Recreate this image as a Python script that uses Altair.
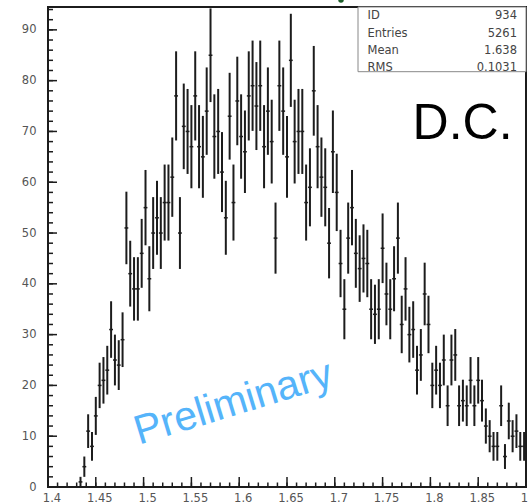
import altair as alt
import numpy as np
import pandas as pd

# ---------------- data ----------------
x_min, x_max = 1.4, 1.9
bin_width = 0.004
counts = [
    0, 0, 0, 0, 0, 0, 0, 0,
    1, 4, 11, 8, 14, 20, 21, 23, 31, 25, 24, 29, 51, 42, 39, 39, 46, 55, 41, 50,
    53, 50, 56, 56, 61, 77, 50, 71, 70, 67, 77, 67, 65, 74, 85, 69, 70, 62,
    53, 73, 56, 76, 69, 66, 77, 79, 75, 79, 67, 74, 68, 49, 79, 74, 65, 84, 68, 70,
    70, 56, 59, 78, 67, 61, 59, 48, 66, 58, 44, 35, 49, 55, 46, 43, 45, 44,
    35, 34, 35, 47, 38, 35, 41, 49, 32, 39, 30, 31, 23, 26, 38, 32, 20, 23, 20, 25,
    16, 25, 26, 16, 17, 16, 21, 16, 21, 17, 12, 10, 8, 8, 16, 6, 13, 10, 11, 8, 8,
]
x_tick_labels = [1.4, 1.45, 1.5, 1.55, 1.6, 1.65, 1.7, 1.75, 1.8, 1.85, 1.9]
y_tick_labels = [0, 10, 20, 30, 40, 50, 60, 70, 80, 90]
stat_names = ["ID", "Entries", "Mean", "RMS"]
stat_values = ["934", "5261", "1.638", "0.1031"]

# ---------------- tables ----------------
n = len(counts)
lo = x_min + bin_width * np.arange(n)
df = pd.DataFrame({
    "lo": lo,
    "hi": lo + bin_width,
    "x": lo + bin_width / 2,
    "n": counts,
})
df["err"] = np.sqrt(df["n"])
df["ylo"] = df["n"] - df["err"]
df["yhi"] = df["n"] + df["err"]
df = df[df["n"] > 0]

x_major = pd.DataFrame({"v": x_tick_labels})
x_minor = pd.DataFrame({"v": np.round(np.arange(1.40, 1.9001, 0.01), 3)})
y_major = pd.DataFrame({"v": y_tick_labels})
y_minor = pd.DataFrame({"v": np.arange(0, 95, 2)})

W, H = 478, 480
xs = alt.Scale(domain=[x_min, x_max], nice=False, zero=False)
ys = alt.Scale(domain=[0, 94.5], nice=False, zero=False)
INK = "#1c1c1c"

vbars = alt.Chart(df).mark_rule(color=INK, strokeWidth=2, clip=True).encode(
    x=alt.X("x:Q", scale=xs, axis=alt.Axis(values=x_tick_labels, format="~g",
                                           labelPadding=5, labelFlush=False, labelOffset=3.5)),
    y=alt.Y("ylo:Q", scale=ys, axis=alt.Axis(values=y_tick_labels, format="d",
                                             labelPadding=12, labelFlush=False)),
    y2="yhi:Q",
)
hbars = alt.Chart(df).mark_rule(color=INK, strokeWidth=1.5, clip=True).encode(
    x=alt.X("lo:Q", scale=xs), x2="hi:Q", y=alt.Y("n:Q", scale=ys)
)

ytm = alt.Chart(y_major).mark_rule(color=INK, strokeWidth=1.5).encode(
    y=alt.Y("v:Q", scale=ys), x=alt.value(0), x2=alt.value(9))
ytn = alt.Chart(y_minor).mark_rule(color=INK, strokeWidth=1.5).encode(
    y=alt.Y("v:Q", scale=ys), x=alt.value(0), x2=alt.value(5))
xtm = alt.Chart(x_major).mark_rule(color=INK, strokeWidth=1.5).encode(
    x=alt.X("v:Q", scale=xs), y=alt.value(H), y2=alt.value(H - 10))
xtn = alt.Chart(x_minor).mark_rule(color=INK, strokeWidth=1.5).encode(
    x=alt.X("v:Q", scale=xs), y=alt.value(H), y2=alt.value(H - 4.5))

one = pd.DataFrame({"a": [0]})
box = alt.Chart(one).mark_rect(fill="white", stroke="#888888", strokeWidth=1).encode(
    x=alt.value(310), x2=alt.value(W), y=alt.value(0), y2=alt.value(64.7))

stat_layers = []
row_y = [12.3, 29.8, 47.2, 63.6]
for name, val, yy in zip(stat_names, stat_values, row_y):
    d = pd.DataFrame({"name": [name], "val": [val]})
    stat_layers.append(alt.Chart(d).mark_text(
        font="DejaVu Sans", fontSize=11.5, color="#444444", align="left", baseline="alphabetic"
    ).encode(text="name:N", x=alt.value(319.5), y=alt.value(yy)))
    stat_layers.append(alt.Chart(d).mark_text(
        font="DejaVu Sans", fontSize=11.5, color="#444444", align="right", baseline="alphabetic"
    ).encode(text="val:N", x=alt.value(469), y=alt.value(yy)))

dc = alt.Chart(pd.DataFrame({"x": [1.886], "y": [68.6], "t": ["D.C."]})).mark_text(
    font="Liberation Sans", fontSize=50, color="black", align="right", baseline="alphabetic"
).encode(x=alt.X("x:Q", scale=xs), y=alt.Y("y:Q", scale=ys), text="t:N")

prelim = alt.Chart(pd.DataFrame({"x": [1.5977], "y": [14.2], "t": ["Preliminary"]})).mark_text(
    font="Liberation Sans", fontSize=41, color="#55B4FA", align="center",
    baseline="alphabetic", angle=343
).encode(x=alt.X("x:Q", scale=xs), y=alt.Y("y:Q", scale=ys), text="t:N")

dot = alt.Chart(one).mark_point(filled=True, color="#1d5e2a", size=30, opacity=1).encode(
    x=alt.value(293), y=alt.value(-7))

chart = alt.layer(
    prelim, vbars, hbars, ytm, ytn, xtm, xtn, box, *stat_layers, dc, dot
).properties(
    width=W, height=H,
    padding={"left": 48, "top": 7, "right": 2, "bottom": 17},
    autosize=alt.AutoSizeParams(type="none"),
    background="white",
).configure_view(
    stroke=INK, strokeWidth=2
).configure_axis(
    grid=False, domain=False, ticks=False, title=None,
    labelFont="DejaVu Sans", labelFontSize=11.5, labelColor="#555555",
)

chart.save("out.html", embed_options={"renderer": "svg", "actions": False})
